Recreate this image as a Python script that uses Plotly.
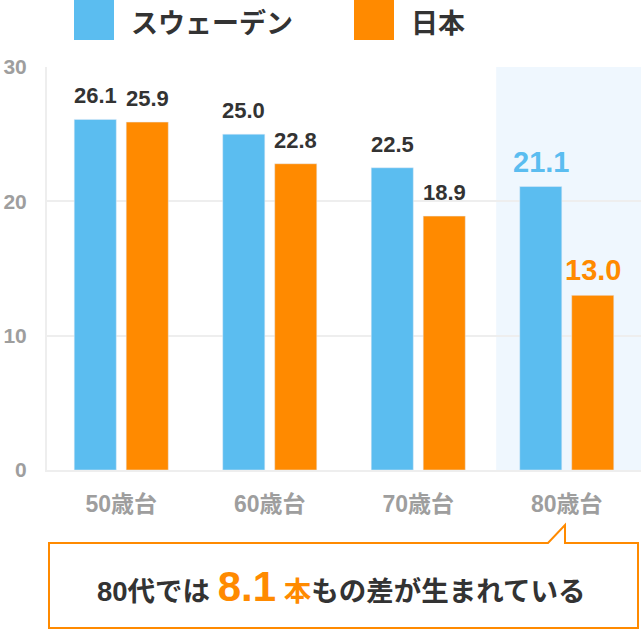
import plotly.graph_objects as go

categories = ["50歳台", "60歳台", "70歳台", "80歳台"]
sweden = [26.1, 25.0, 22.5, 21.1]
japan = [25.9, 22.8, 18.9, 13.0]
series_names = ["スウェーデン", "日本"]
y_ticks = [0, 10, 20, 30]
note_prefix = "80代では "
note_value = "8.1"
note_unit = "本"
note_suffix = "もの差が生まれている"

BLUE = "#5bbdf0"
ORANGE = "#ff8a00"
DARK = "#333333"
GREY = "#9e9e9e"
NUMFONT = "Liberation Sans, Noto Sans CJK JP"

W, H = 641, 630
L, R, T, B = 47, 0, 67, 160
PW, PH = W - L - R, H - T - B


def px(x):
    return (x - L) / PW


def py(y):
    return (H - B - y) / PH


xs = list(range(len(categories)))

fig = go.Figure()
fig.add_trace(go.Bar(x=xs, y=sweden, name=series_names[0], marker_color=BLUE,
                     hoverinfo="y"))
fig.add_trace(go.Bar(x=xs, y=japan, name=series_names[1], marker_color=ORANGE,
                     hoverinfo="y"))

bargap, bargroupgap = 0.30, 0.19
off = (1 - bargap) / 4  # center offset of each bar in a group

annotations = []
last = len(categories) - 1
for i in xs:
    hl = i == last
    for vals, sign, col in ((sweden, -1, BLUE), (japan, 1, ORANGE)):
        annotations.append(dict(
            x=i + sign * off, y=vals[i], xref="x", yref="y",
            text=f"{vals[i]:.1f}", showarrow=False, yanchor="bottom",
            yshift=7 if hl else 9,
            font=dict(family=NUMFONT, size=29 if hl else 22,
                      color=col if hl else DARK, weight="bold")))

# legend (drawn)
shapes = []
legend_items = [(74, series_names[0], BLUE), (354, series_names[1], ORANGE)]
for x0, name, col in legend_items:
    shapes.append(dict(type="rect", xref="paper", yref="paper",
                       x0=px(x0), x1=px(x0 + 40), y0=py(40), y1=py(0),
                       fillcolor=col, line=dict(width=0)))
    annotations.append(dict(x=px(x0 + 55), y=py(21), xref="paper", yref="paper",
                            text=name, showarrow=False, xanchor="left",
                            yanchor="middle",
                            font=dict(family="Noto Sans CJK JP", size=27,
                                      color=DARK, weight="bold")))

# highlight band for last category
shapes.append(dict(type="rect", xref="x", yref="y domain",
                   x0=last - 0.475, x1=last + 0.5, y0=0, y1=1,
                   fillcolor="#eff7fe", line=dict(width=0), layer="below"))

# callout box
pts = [(49, 543), (548, 543), (565, 525), (565, 543), (638, 543),
       (638, 628), (49, 628)]
path = "M " + " L ".join(f"{px(a):.5f},{py(b):.5f}" for a, b in pts) + " Z"
shapes.append(dict(type="path", xref="paper", yref="paper", path=path,
                   fillcolor="white", line=dict(color=ORANGE, width=2)))

note = (f"{note_prefix}<span style='font-family:Liberation Sans;font-size:42px;"
        f"color:{ORANGE}'>{note_value}</span> <span style='color:{ORANGE}'>"
        f"{note_unit}</span>{note_suffix}")
annotations.append(dict(x=px(341), y=py(586), xref="paper", yref="paper",
                        text=note, showarrow=False, xanchor="center",
                        yanchor="middle",
                        font=dict(family="Liberation Sans, Noto Sans CJK JP",
                                  size=27.5, color=DARK, weight="bold")))

fig.update_layout(
    width=W, height=H,
    margin=dict(l=L, r=R, t=T, b=B, autoexpand=False),
    paper_bgcolor="white", plot_bgcolor="white",
    showlegend=False,
    barmode="group", bargap=bargap, bargroupgap=bargroupgap,
    shapes=shapes, annotations=annotations,
    xaxis=dict(tickmode="array", tickvals=xs, ticktext=categories,
               range=[-0.5, len(categories) - 0.5], automargin=False,
               showgrid=False, zeroline=False,
               showline=True, linecolor="#eeeeee", linewidth=2,
               ticks="", ticklabelstandoff=12,
               tickfont=dict(family=NUMFONT, size=23, color=GREY,
                             weight="bold")),
    yaxis=dict(range=[0, 30], tickmode="array", tickvals=y_ticks,
               automargin=False,
               showgrid=True, gridcolor="#eeeeee", gridwidth=2,
               zeroline=False, showline=True, linecolor="#eeeeee",
               linewidth=2, ticks="", ticklabelstandoff=14,
               tickfont=dict(family=NUMFONT, size=21, color=GREY,
                             weight="bold")),
)

fig.write_html("out.html", config={"displayModeBar": False},
               post_script="document.body.style.margin='0';"
                           "document.body.style.padding='0';")
